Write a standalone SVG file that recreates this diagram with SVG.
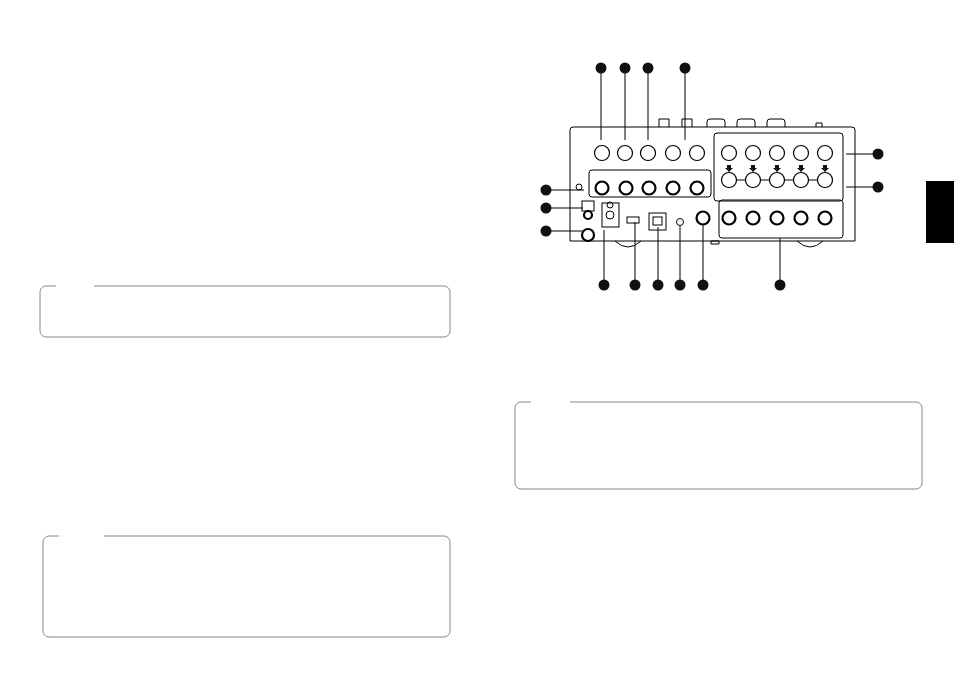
<svg xmlns="http://www.w3.org/2000/svg" width="954" height="674" viewBox="0 0 954 674">
<style>
.l{fill:none;stroke:#000;stroke-width:1}
.t{fill:none;stroke:#888;stroke-width:1}
.n{fill:#111}
.j{fill:#fff;stroke:#000;stroke-width:1.2}
.x{fill:#fff;stroke:#000;stroke-width:2.2}
</style>
<rect width="954" height="674" fill="#fff"/>
<rect x="926" y="181" width="28" height="62" fill="#000"/>
<g id="note1"><path class="t" d="M94 286H444a6 6 0 0 1 6 6V331a6 6 0 0 1-6 6H46a6 6 0 0 1-6-6V292a6 6 0 0 1 6-6h10"/></g>
<g id="note2"><path class="t" d="M104 536H444a6 6 0 0 1 6 6V631a6 6 0 0 1-6 6H49a6 6 0 0 1-6-6V542a6 6 0 0 1 6-6h10"/></g>
<g id="note3"><path class="t" d="M570 402H916a6 6 0 0 1 6 6V483a6 6 0 0 1-6 6H521a6 6 0 0 1-6-6V408a6 6 0 0 1 6-6h10"/></g>
<g id="panel">
<path class="l" d="M570 241V130q0-3 3-3H852q3 0 3 3V241Z"/>
<path class="l" d="M659 127v-8h10v8M682 127v-8h10v8M707 127v-5q0-3 3-3h12q3 0 3 3v5M737 127v-5q0-3 3-3h12q3 0 3 3v5M767 127v-5q0-3 3-3h12q3 0 3 3v5M816 127v-4h6v4"/>
<path class="l" d="M615 241q13 12 26 0M797 241q13 12 26 0M711 241h8v3h-8Z"/>
<rect class="l" x="714" y="133" width="129" height="68" rx="3"/>
<rect class="l" x="589" y="170" width="122" height="27" rx="3"/>
<rect class="l" x="719" y="200" width="124" height="38" rx="3"/>
<g class="j">
<circle cx="602" cy="153" r="7.5"/><circle cx="625" cy="153" r="7.5"/><circle cx="648" cy="153" r="7.5"/><circle cx="673" cy="153" r="7.5"/><circle cx="697" cy="153" r="7.5"/>
<circle cx="729" cy="153" r="7.5"/><circle cx="753" cy="153" r="7.5"/><circle cx="777" cy="153" r="7.5"/><circle cx="801" cy="153" r="7.5"/><circle cx="825" cy="153" r="7.5"/>
<circle cx="729" cy="180" r="7.5"/><circle cx="753" cy="180" r="7.5"/><circle cx="777" cy="180" r="7.5"/><circle cx="801" cy="180" r="7.5"/><circle cx="825" cy="180" r="7.5"/>
</g>
<g class="x">
<circle cx="602" cy="188" r="6.5"/><circle cx="626" cy="188" r="6.5"/><circle cx="649" cy="188" r="6.5"/><circle cx="673" cy="188" r="6.5"/><circle cx="697" cy="188" r="6.5"/>
<circle cx="703" cy="218" r="6.5"/><circle cx="729" cy="218" r="6.5"/><circle cx="753" cy="218" r="6.5"/><circle cx="777" cy="218" r="6.5"/><circle cx="801" cy="218" r="6.5"/><circle cx="825" cy="218" r="6.5"/>
</g>
<path class="l" d="M736 180h10M760 180h10M784 180h10M808 180h10"/>
<g class="n"><path d="M727 165h4v3h2l-4 4-4-4h2Z"/><path d="M751 165h4v3h2l-4 4-4-4h2Z"/><path d="M775 165h4v3h2l-4 4-4-4h2Z"/><path d="M799 165h4v3h2l-4 4-4-4h2Z"/><path d="M823 165h4v3h2l-4 4-4-4h2Z"/></g>
<rect class="l" x="582" y="201" width="12" height="10"/><circle class="x" cx="588" cy="215" r="4"/>
<circle class="x" cx="588" cy="235" r="6"/>
<rect class="l" x="602" y="203" width="17" height="24"/><circle class="l" cx="610" cy="215" r="4"/>
<rect class="l" x="627" y="217" width="12" height="6" fill="#000"/>
<rect class="l" x="649" y="213" width="17" height="17"/><rect class="l" x="653" y="217" width="9" height="8"/>
<circle class="l" cx="680" cy="222" r="3.5"/>
<circle class="l" cx="579" cy="187" r="3"/><circle class="l" cx="610" cy="205" r="3"/>
</g>
<g id="connectors" class="l">
<path d="M601 68V140M625 68V140M648 68V140M685 68V140M878 154H846M878 187H846M546 190H584M546 208H583M546 231H582M604 285V230M635 285V222M658 285V227M680 285V226M703 285V225M780 285V238"/>
</g>
<g id="callouts" class="n">
<circle cx="601" cy="68" r="5.5"/><circle cx="625" cy="68" r="5.5"/><circle cx="648" cy="68" r="5.5"/><circle cx="685" cy="68" r="5.5"/>
<circle cx="878" cy="154" r="5.5"/><circle cx="878" cy="187" r="5.5"/>
<circle cx="546" cy="190" r="5.5"/><circle cx="546" cy="208" r="5.5"/><circle cx="546" cy="231" r="5.5"/>
<circle cx="604" cy="285" r="5.5"/><circle cx="635" cy="285" r="5.5"/><circle cx="658" cy="285" r="5.5"/><circle cx="680" cy="285" r="5.5"/><circle cx="703" cy="285" r="5.5"/><circle cx="780" cy="285" r="5.5"/>
</g>
</svg>
